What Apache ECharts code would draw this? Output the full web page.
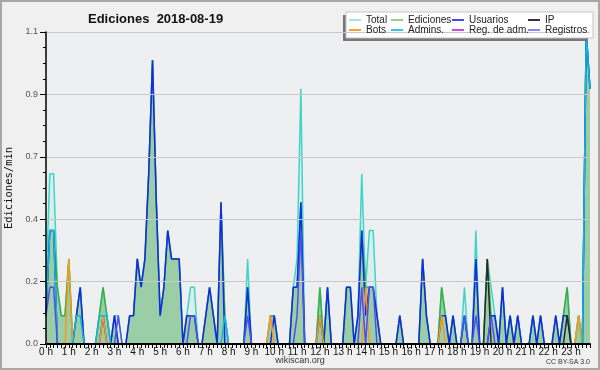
<!DOCTYPE html>
<html>
<head>
<meta charset="utf-8">
<script src="https://cdn.jsdelivr.net/npm/echarts/dist/echarts.min.js"></script>
<style>
html,body{margin:0;padding:0;background:#f0f0f0;}
#chart{width:600px;height:370px;}
</style>
</head>
<body>
<div id="chart"></div>
<script>
// Hour tick labels
const hourLabels = ['0 h','1 h','2 h','3 h','4 h','5 h','6 h','7 h','8 h','9 h','10 h','11 h',
  '12 h','13 h','14 h','15 h','16 h','17 h','18 h','19 h','20 h','21 h','22 h','23 h'];
// 10-minute slots (6 per hour)
const minuteSlots = ['00','10','20','30','40','50'];
const categories = [];
hourLabels.forEach(function(h, i){ minuteSlots.forEach(function(m){ categories.push(i + ':' + m); }); });

// Values (edits / min), one row of six 10-minute slots per hour
const total = [
  0.2,0.6,0.6,0.2,0.1,0.1,   0.3,0,0.1,0.2,0,0,   0,0,0.1,0.2,0.1,0,   0.1,0.1,0,0,0.1,0.1,
  0.3,0.2,0.3,0.6,1.0,0.5,   0.1,0.2,0.4,0.3,0.3,0.3,   0,0.1,0.2,0.2,0,0,   0.1,0.2,0.1,0,0.5,0.1,
  0,0,0,0,0,0.3,   0,0,0,0,0,0.1,   0.1,0,0,0,0,0.2,   0.3,0.9,0,0,0,0,
  0.2,0,0.2,0,0,0,   0,0.2,0.2,0,0.1,0.6,   0.2,0.4,0.4,0.1,0,0,   0,0,0,0.1,0,0,
  0,0,0,0.3,0.1,0,   0,0,0.2,0.1,0,0.1,   0,0,0.2,0,0,0.4,   0,0,0.3,0.2,0.1,0,
  0.2,0,0.1,0,0.1,0,   0,0,0.1,0,0.1,0,   0,0,0.1,0,0.1,0.2,   0,0,0.1,0,1.1,0.9
];
const ediciones = [
  0.1,0.4,0.4,0.2,0.1,0.1,   0.3,0,0.1,0.2,0,0,   0,0,0.1,0.2,0.1,0,   0.1,0,0,0,0.1,0.1,
  0.3,0.2,0.3,0.6,1.0,0.5,   0.1,0.2,0.4,0.3,0.3,0.3,   0,0.1,0.1,0.1,0,0,   0.1,0.2,0.1,0,0.5,0.1,
  0,0,0,0,0,0.2,   0,0,0,0,0,0.1,   0.1,0,0,0,0,0.2,   0.2,0.5,0,0,0,0,
  0.2,0,0.2,0,0,0,   0,0.2,0.2,0,0.1,0.4,   0.2,0.2,0.2,0.1,0,0,   0,0,0,0.1,0,0,
  0,0,0,0.3,0.1,0,   0,0,0.2,0.1,0,0.1,   0,0,0.1,0,0,0.3,   0,0,0.3,0.1,0.1,0,
  0.2,0,0.1,0,0.1,0,   0,0,0.1,0,0.1,0,   0,0,0.1,0,0.1,0.2,   0,0,0.1,0,1.1,0.9
];
const usuarios = [
  0.1,0.4,0.4,0,0,0,   0,0,0.1,0.2,0,0,   0,0,0,0.1,0,0,   0.1,0,0,0,0.1,0.1,
  0.3,0.2,0.3,0.6,1.0,0.5,   0.1,0.2,0.4,0.3,0.3,0.3,   0,0.1,0.1,0.1,0,0,   0.1,0.2,0.1,0,0.5,0,
  0,0,0,0,0,0.2,   0,0,0,0,0,0,   0.1,0,0,0,0,0.2,   0.2,0.5,0,0,0,0,
  0.1,0,0.2,0,0,0,   0,0.2,0.2,0,0.1,0.4,   0.1,0.2,0.2,0.1,0,0,   0,0,0,0.1,0,0,
  0,0,0,0.3,0.1,0,   0,0,0.1,0.1,0,0.1,   0,0,0.1,0,0,0.3,   0,0,0,0.1,0.1,0,
  0.2,0,0.1,0,0.1,0,   0,0,0.1,0,0.1,0,   0,0,0.1,0,0.1,0.1,   0,0,0,0,1.1,0.9
];
const ip = [
  0,0,0,0,0,0,   0,0,0,0,0,0,   0,0,0,0,0,0,   0,0,0,0,0,0,
  0,0,0,0,0,0,   0,0,0,0,0,0,   0,0,0,0,0,0,   0,0,0,0,0,0,
  0,0,0,0,0,0,   0,0,0,0,0,0,   0,0,0,0,0,0,   0,0,0,0,0,0,
  0,0,0,0,0,0,   0,0,0,0,0,0,   0,0,0,0,0,0,   0,0,0,0,0,0,
  0,0,0,0,0,0,   0,0,0,0,0,0,   0,0,0,0,0,0,   0,0,0.3,0,0,0,
  0,0,0,0,0,0,   0,0,0,0,0,0,   0,0,0,0,0,0.1,   0,0,0,0,0,0
];
const bots = [
  0,0,0,0,0,0,   0.3,0,0,0,0,0,   0,0,0,0.1,0,0,   0,0,0,0,0,0,
  0,0,0,0,0,0,   0,0,0,0,0,0,   0,0,0,0,0,0,   0,0,0,0,0,0,
  0,0,0,0,0,0,   0,0,0,0,0,0.1,   0,0,0,0,0,0,   0,0,0,0,0,0,
  0.1,0,0,0,0,0,   0,0,0,0,0,0,   0.2,0,0,0,0,0,   0,0,0,0,0,0,
  0,0,0,0,0,0,   0,0,0.1,0,0,0,   0,0,0,0,0,0,   0,0,0,0,0,0,
  0,0,0,0,0,0,   0,0,0,0,0,0,   0,0,0,0,0,0,   0,0,0.1,0,0,0
];
const admins = [
  0.1,0.4,0.4,0,0,0,   0,0,0.1,0.1,0,0,   0,0,0.1,0.1,0.1,0,   0,0,0,0,0,0,
  0,0,0,0,0,0,   0,0,0,0,0,0,   0,0,0,0,0,0,   0,0,0,0,0,0.1,
  0,0,0,0,0,0,   0,0,0,0,0,0,   0,0,0,0,0,0,   0,0,0,0,0,0,
  0,0,0,0,0,0,   0,0,0,0,0,0,   0,0,0,0,0,0,   0,0,0,0,0,0,
  0,0,0,0,0,0,   0,0,0,0,0,0,   0,0,0,0,0,0,   0,0,0,0,0,0,
  0,0,0,0,0,0,   0,0,0,0,0,0,   0,0,0,0,0,0,   0,0,0,0,1.1,0.9
];
const regAdm = [
  0,0,0,0,0,0,   0,0,0,0,0,0,   0,0,0,0,0,0,   0,0,0,0,0,0,
  0,0,0,0,0,0,   0,0,0,0,0,0,   0,0,0,0,0,0,   0,0,0,0,0,0,
  0,0,0,0,0,0,   0,0,0,0,0,0,   0,0,0,0,0,0,   0,0,0,0,0,0,
  0,0,0,0,0,0,   0,0,0,0,0,0,   0,0,0,0,0,0,   0,0,0,0,0,0,
  0,0,0,0,0,0,   0,0,0,0,0,0,   0,0,0,0,0,0,   0,0,0,0,0,0,
  0,0,0,0,0,0,   0,0,0,0,0,0,   0,0,0,0,0,0,   0,0,0,0,0,0
];
const registros = [
  0.1,0.2,0.2,0,0,0,   0,0,0,0,0,0,   0,0,0,0,0,0,   0,0.1,0,0,0,0,
  0,0,0,0,0,0,   0,0,0,0,0,0,   0,0,0.1,0.1,0,0,   0,0,0,0,0,0,
  0,0,0,0,0,0.1,   0,0,0,0,0,0,   0,0,0,0,0,0,   0.1,0.4,0,0,0,0,
  0,0,0,0,0,0,   0,0,0,0,0,0.2,   0,0.2,0.2,0,0,0,   0,0,0,0,0,0,
  0,0,0,0,0,0,   0,0,0,0,0,0,   0,0,0.1,0,0,0.1,   0,0,0,0.1,0,0,
  0,0,0,0,0,0,   0,0,0,0,0,0,   0,0,0,0,0,0,   0,0,0,0,0,0
];

const FONT = 'Liberation Sans, Arial, sans-serif';
function line(name, data, color, extra) {
  return Object.assign({
    name: name, type: 'line', data: data, symbol: 'none', showSymbol: false,
    color: color, lineStyle: { width: 1.5, color: color }, itemStyle: { color: color },
    emphasis: { disabled: true }, z: 2
  }, extra || {});
}

const legendBase = {
  orient: 'vertical', top: 15, itemGap: 0, itemWidth: 12, itemHeight: 2, padding: 0,
  icon: 'rect', selectedMode: false, z: 6,
  textStyle: { fontSize: 10, fontFamily: FONT, color: '#222', lineHeight: 10 }
};
function leg(left, items) { return Object.assign({}, legendBase, { left: left, data: items }); }

const chart = echarts.init(document.getElementById('chart'), null, { renderer: 'canvas' });
chart.setOption({
  animation: false,
  backgroundColor: '#f0f0f0',
  title: {
    text: 'Ediciones  2018-08-19', left: 83, top: 8,
    textStyle: { fontSize: 13, fontWeight: 'bold', fontFamily: FONT, color: '#111' }
  },
  legend: [
    leg(349, [{ name: 'Total', itemStyle: { color: '#a6e6de' } }, { name: 'Bots', itemStyle: { color: '#f7a13a' } }]),
    leg(391, [{ name: 'Ediciones', itemStyle: { color: '#8ed48e' } }, { name: 'Admins.', itemStyle: { color: '#3ec3e6' } }]),
    leg(452, [{ name: 'Usuarios', itemStyle: { color: '#4a4ae6' } }, { name: 'Reg. de adm.', itemStyle: { color: '#d04ad8' } }]),
    leg(528, [{ name: 'IP', itemStyle: { color: '#333333' } }, { name: 'Registros', itemStyle: { color: '#8a8af0' } }])
  ],
  grid: {
    left: 46, right: 10, top: 32, bottom: 26, show: true, backgroundColor: '#eeeff1', borderWidth: 0,
    containLabel: false, outerBoundsMode: 'none'
  },
  xAxis: {
    type: 'category', data: categories, boundaryGap: false, z: 5,
    axisLine: { lineStyle: { color: '#000', width: 2 } },
    axisTick: { interval: 0, length: 4, lineStyle: { color: '#000', width: 1 } },
    axisLabel: {
      interval: 5, margin: 3, fontSize: 10, fontFamily: FONT, color: '#111',
      formatter: function (v, i) { return hourLabels[Math.round(i / 6)]; }
    },
    splitLine: { show: false }
  },
  yAxis: {
    type: 'value', min: 0, max: 1.1, interval: 0.22, z: 5,
    name: 'Ediciones/min', nameLocation: 'middle', nameGap: 27, nameRotate: 90,
    nameTextStyle: { fontSize: 10.5, fontFamily: 'DejaVu Sans Mono, monospace', color: '#111' },
    axisLine: { show: true, lineStyle: { color: '#000', width: 1.5 } },
    axisTick: { show: true, length: 6, lineStyle: { color: '#000' } },
    minorTick: { show: true, splitNumber: 4, length: 3, lineStyle: { color: '#000' } },
    axisLabel: {
      margin: 8, fontSize: 9, fontFamily: FONT, color: '#555',
      formatter: function (v) { return v.toFixed(1); }
    },
    splitLine: { lineStyle: { color: '#c8c8c8', width: 1 } }
  },
  series: [
    line('Total', total, '#3dd6c6', { areaStyle: { color: 'rgba(64,224,208,0.15)' } }),
    line('Ediciones', ediciones, '#3cae45', { areaStyle: { color: 'rgba(66,162,72,0.6)' } }),
    line('Usuarios', usuarios, '#1428e6'),
    line('IP', ip, '#2a2a2a'),
    line('Bots', bots, '#f79a1e'),
    line('Admins.', admins, '#14b4e0'),
    line('Reg. de adm.', regAdm, '#cc33cc'),
    line('Registros', registros, '#4f4fee')
  ],
  graphic: [
    { type: 'rect', z: 3, shape: { x: 343, y: 15, width: 245, height: 26 }, style: { fill: '#777' } },
    { type: 'rect', z: 3, shape: { x: 346, y: 12, width: 247, height: 26 }, style: { fill: '#ffffff', stroke: '#c4c4c4', lineWidth: 1 } },
    { type: 'text', z: 3, x: 300, y: 361, style: { text: 'wikiscan.org', fill: '#333', font: '9px ' + FONT, textAlign: 'center', textVerticalAlign: 'middle' } },
    { type: 'text', z: 3, x: 590, y: 362, style: { text: 'CC BY-SA 3.0', fill: '#333', font: '7px ' + FONT, textAlign: 'right', textVerticalAlign: 'middle' } },
    { type: 'rect', z: 10, shape: { x: 1, y: 1, width: 598, height: 368 }, style: { fill: 'none', stroke: '#a8a8a8', lineWidth: 2 } }
  ]
});
</script>
</body>
</html>
